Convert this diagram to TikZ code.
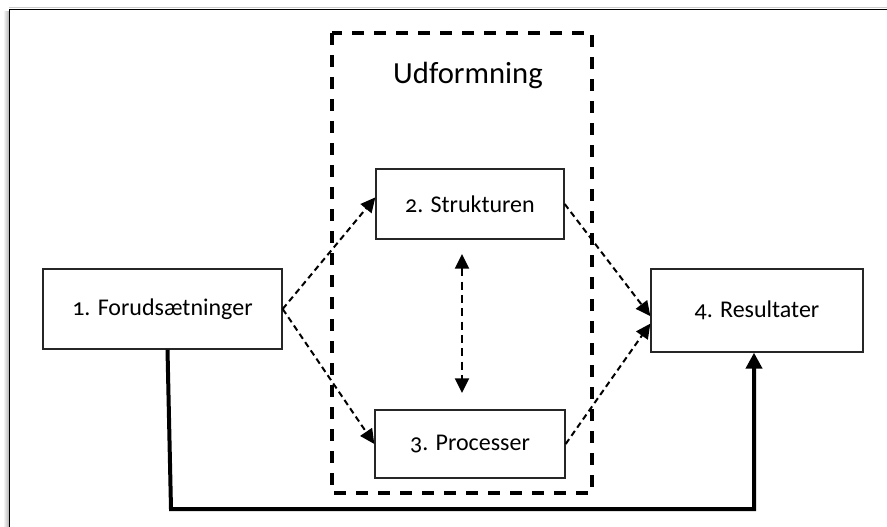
\documentclass[tikz,border=0pt]{standalone}
\usepackage{fontspec}
\setmainfont{Carlito}[Numbers=OldStyle]
\usetikzlibrary{arrows.meta,calc}

\tikzset{
	stepbox/.style={draw=black!85, line width=1pt, inner sep=0pt, font=\fontsize{18pt}{20pt}\selectfont},
	dlink/.style={line width=1.5pt, dash pattern=on 4.5pt off 3pt, -{Triangle[length=11pt,width=10.5pt]}},
	plink/.style={line width=3pt, -{Triangle[length=12pt,width=12pt]}}
}

\begin{document}
\begin{tikzpicture}[x=0.75pt, y=-0.75pt]
	\useasboundingbox (0,0) rectangle (887,527);
	% frame with shadow
	\fill[left color=white, right color=black!30] (3,12) rectangle (9,527);
	\draw[black!20, line width=1pt] (9,7.5) -- (887,7.5);
	\draw[line width=1.2pt] (9.5,540) -- (9.5,9.5) -- (900,9.5);
	% design group
	\draw[line width=3pt, dash pattern=on 9pt off 7.5pt] (332,33) rectangle (592,493);
	\node[anchor=base, font=\fontsize{23pt}{25pt}\selectfont] (udf) at (468,84) {Udformning};
	% boxes
	\node[stepbox, minimum width=179.25pt, minimum height=60pt] (fors) at (162.5,309) {1. Forudsætninger};
	\node[stepbox, minimum width=141pt, minimum height=52.5pt] (stru) at (470,204) {2. Strukturen};
	\node[stepbox, minimum width=142.5pt, minimum height=51pt] (proc) at (470,444) {3. Processer};
	\node[stepbox, minimum width=159pt, minimum height=62.25pt] (resu) at (757,310.5) {4. Resultater};
	% dashed links
	\draw[dlink] (fors.east) -- (stru.176);
	\draw[dlink] (fors.east) -- (proc.west);
	\draw[dlink] (stru.east) -- (resu.183);
	\draw[dlink] (proc.east) -- (resu.187);
	\coordinate (up) at (462,254);
	\coordinate (dn) at (462,393);
	\draw[dlink, dash pattern=on 6pt off 4pt, {Triangle[length=11pt,width=10.5pt]}-{Triangle[length=11pt,width=10.5pt]}] (up) -- (dn);
	% direct path
	\coordinate (bl) at (171,509);
	\coordinate (br) at (754,509);
	\draw[plink] ($(fors.south)+(5,0)$) -- (bl) -- (br) -- (br |- resu.south);
\end{tikzpicture}
\end{document}
